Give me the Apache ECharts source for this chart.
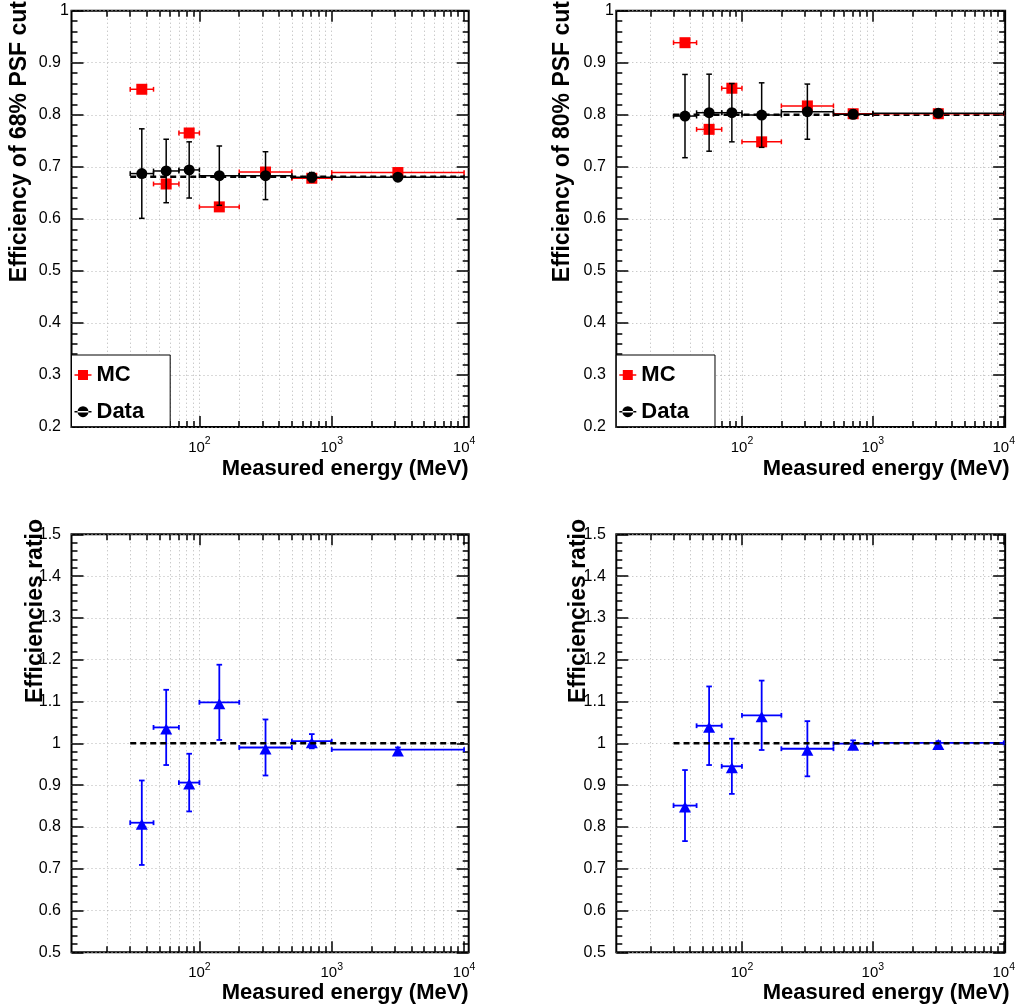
<!DOCTYPE html>
<html><head><meta charset="utf-8">
<script src="https://cdn.jsdelivr.net/npm/echarts@6/dist/echarts.min.js"></script>
<style>html,body{margin:0;padding:0;background:#fff}#c{width:1018px;height:1008px}</style>
</head><body><div id="c"></div>
<script>
// ---- data ----
const binLow  = [30, 45, 70, 100, 200, 500, 1000];
const binHigh = [45, 70, 100, 200, 500, 1000, 10000];
const energy  = [36.7, 56.1, 83.7, 141.4, 316, 707, 3162];

const data68    = [0.687, 0.692, 0.694, 0.683, 0.683, 0.680, 0.680];
const data68Err = [0.086, 0.061, 0.054, 0.057, 0.046, 0.009, 0.003];
const mc68      = [0.849, 0.667, 0.765, 0.623, 0.690, 0.678, 0.689];
const mc68Err   = [0.005, 0.005, 0.005, 0.004, 0.003, 0.003, 0.002];

const data80    = [0.7975, 0.804, 0.804, 0.7994, 0.806, 0.801, 0.803];
const data80Err = [0.080, 0.074, 0.056, 0.062, 0.053, 0.008, 0.003];
const mc80      = [0.9385, 0.772, 0.851, 0.748, 0.817, 0.802, 0.802];
const mc80Err   = [0.005, 0.005, 0.005, 0.004, 0.003, 0.003, 0.002];

const ratio68    = [0.810, 1.038, 0.906, 1.098, 0.990, 1.005, 0.985];
const ratio68Err = [0.101, 0.090, 0.069, 0.090, 0.067, 0.017, 0.005];
const ratio80    = [0.851, 1.042, 0.945, 1.067, 0.987, 0.999, 1.001];
const ratio80Err = [0.085, 0.094, 0.066, 0.083, 0.066, 0.008, 0.004];

const fitRange = [30, 10000];
const fit68 = 0.681, fit80 = 0.800, ratioRef = 1;

const xMajorTicks = [100, 1000, 10000];
const xMinorTicks = [20,30,40,50,60,70,80,90,200,300,400,500,600,700,800,900,2000,3000,4000,5000,6000,7000,8000,9000];

// ---- chart ----
const FF = 'Liberation Sans, Arial, Helvetica, sans-serif';
const gridStyle = {color: '#b4b4b4', width: 1, type: [1, 3]};
const option = {animation: false, grid: [], xAxis: [], yAxis: [], series: [], legend: [], graphic: []};

function errRender(color, lw, capX, capY) {
  return function (params, api) {
    const x = api.value(0), y = api.value(1);
    const xl = api.value(2), xh = api.value(3), yl = api.value(4), yh = api.value(5);
    const pL = api.coord([xl, y]), pH = api.coord([xh, y]);
    const pB = api.coord([x, yl]), pT = api.coord([x, yh]);
    const st = {stroke: color, lineWidth: lw};
    const L = (x1, y1, x2, y2) => ({type: 'line', shape: {x1, y1, x2, y2}, style: st});
    return {type: 'group', children: [
      L(pL[0], pL[1], pH[0], pH[1]),
      L(pL[0], pL[1] - capY, pL[0], pL[1] + capY),
      L(pH[0], pH[1] - capY, pH[0], pH[1] + capY),
      L(pB[0], pB[1], pT[0], pT[1]),
      L(pB[0] - capX, pB[1], pB[0] + capX, pB[1]),
      L(pT[0] - capX, pT[1], pT[0] + capX, pT[1])
    ]};
  };
}

function addPanel(p) {
  const gi = option.grid.length;
  option.grid.push({left: p.left, top: p.top, width: p.width, height: p.height, show: true,
    borderColor: '#000', borderWidth: 2, backgroundColor: 'transparent'});
  const xb = option.xAxis.length;
  const tickLS = {color: '#000', width: 1.5};
  const mkX = (pos, custom, len, labels, split) => ({
    type: 'log', logBase: 10, gridIndex: gi, position: pos, min: p.xMin, max: p.xMax,
    axisLine: {show: false, onZero: false},
    axisTick: {show: true, inside: true, length: len, customValues: custom, lineStyle: tickLS},
    axisLabel: labels ? {
      show: true, customValues: custom, margin: 9,
      formatter: v => '{b|10}{s|' + Math.round(Math.log10(v)) + '}',
      rich: {
        b: {fontSize: 15, fontFamily: FF, color: '#000', verticalAlign: 'bottom'},
        s: {fontSize: 10.5, fontFamily: FF, color: '#000', verticalAlign: 'bottom', padding: [0, 0, 8, 0]}
      }
    } : {show: false},
    splitLine: split ? {show: true, lineStyle: gridStyle} : {show: false},
    minorTick: {show: false}, minorSplitLine: {show: false}
  });
  option.xAxis.push(
    mkX('bottom', xMajorTicks, 11, true, true),
    mkX('bottom', xMinorTicks, 6, false, true),
    mkX('top', xMajorTicks, 11, false, false),
    mkX('top', xMinorTicks, 6, false, false)
  );
  const yb = option.yAxis.length;
  const mkY = (pos, labels) => ({
    type: 'value', gridIndex: gi, position: pos, min: p.yMin, max: p.yMax, interval: 0.1,
    axisLine: {show: false, onZero: false},
    axisTick: {show: true, inside: true, length: 12, lineStyle: tickLS},
    minorTick: {show: true, splitNumber: 5, length: 6, lineStyle: tickLS},
    axisLabel: labels ? {
      show: true, margin: 2.5,
      formatter: v => {
        const s = String(Math.round(v * 10) / 10);
        return (p.yMax === 1 && Math.abs(v - 1) < 1e-9) ? '{o|' + s + '}' : '{n|' + s + '}';
      },
      rich: {
        n: {fontSize: 16, fontFamily: FF, color: '#000', padding: [0, 8, 0, 0]},
        o: {fontSize: 16, fontFamily: FF, color: '#000', padding: [0, 0, 0, 0]}
      }
    } : {show: false},
    splitLine: labels ? {show: true, lineStyle: gridStyle} : {show: false}
  });
  option.yAxis.push(mkY('left', true), mkY('right', false));

  option.series.push({
    type: 'line', name: 'fit', xAxisIndex: xb, yAxisIndex: yb, silent: true,
    data: [[fitRange[0], p.fit], [fitRange[1], p.fit]], symbol: 'none',
    lineStyle: {color: '#000', width: 2.5, type: [6, 4]}, z: p.fitOnTop ? 9 : 2
  });

  p.sets.forEach((s, k) => {
    option.series.push({
      type: 'custom', name: s.name + ' errors', xAxisIndex: xb, yAxisIndex: yb, silent: true,
      renderItem: errRender(s.color, s.lw, 2.8, 2.4),
      data: energy.map((e, i) => [e, s.vals[i], binLow[i], binHigh[i], s.vals[i] - s.errs[i], s.vals[i] + s.errs[i]]),
      encode: {x: 0, y: 1}, z: 3 + 2 * k
    });
    option.series.push({
      type: 'scatter', name: s.name, xAxisIndex: xb, yAxisIndex: yb,
      data: energy.map((e, i) => [e, s.vals[i]]),
      symbol: s.symbol, symbolSize: s.size, symbolOffset: s.offset || [0, 0],
      itemStyle: {color: s.color, opacity: 1}, z: 4 + 2 * k
    });
  });

  if (p.legend) {
    option.legend.push({
      left: p.left, top: 355, orient: 'vertical', selectedMode: false,
      itemWidth: 17, itemHeight: 11, itemGap: 14.7,
      padding: [9, 26, 4, 3],
      backgroundColor: '#fff', borderColor: '#000', borderWidth: 1, z: 20,
      textStyle: {fontSize: 22, fontWeight: 'bold', fontFamily: FF, color: '#000'},
      data: [
        {name: 'MC', icon: 'path://M0,4.8h17v1.4h-17z M3.5,0.5h10v10h-10z'},
        {name: 'Data', icon: 'path://M0,4.8h17v1.4h-17z M3,5.5a5.5,5.5 0 1,0 11,0a5.5,5.5 0 1,0 -11,0z'}
      ]
    });
  }

  option.graphic.push({
    type: 'text', x: p.yTitleX, y: p.yTitleY, rotation: Math.PI / 2, z: 30,
    style: {text: p.yTitle, font: 'bold 23px ' + FF, fill: '#000',
      align: 'right', textAlign: 'right', verticalAlign: 'middle', textVerticalAlign: 'middle'}
  });
  option.graphic.push({
    type: 'text', x: p.left + p.width, y: p.xTitleY, z: 30,
    style: {text: 'Measured energy (MeV)', font: 'bold 22px ' + FF, fill: '#000',
      align: 'right', textAlign: 'right', verticalAlign: 'middle', textVerticalAlign: 'middle'}
  });
}

const L = {left: 71.5, width: 397.2, xMin: 10.8, xMax: 10840};
const R = {left: 616.3, width: 393.4, xMin: 10.96, xMax: 10250};
const T = {top: 10.7, height: 416.3, yMin: 0.2, yMax: 1, xTitleY: 469, legend: true, fitOnTop: false};
const B = {top: 534.3, height: 418, yMin: 0.5, yMax: 1.5, xTitleY: 993, legend: false, fitOnTop: true};

const red = '#ff0000', blue = '#0000ff', black = '#000000';

addPanel(Object.assign({}, L, T, {fit: fit68, yTitle: 'Efficiency of 68% PSF cut', yTitleX: 20, yTitleY: 1,
  sets: [
    {name: 'MC', vals: mc68, errs: mc68Err, color: red, lw: 1.5, symbol: 'rect', size: 11},
    {name: 'Data', vals: data68, errs: data68Err, color: black, lw: 1.5, symbol: 'circle', size: 11}
  ]}));
addPanel(Object.assign({}, R, T, {fit: fit80, yTitle: 'Efficiency of 80% PSF cut', yTitleX: 563, yTitleY: 1,
  sets: [
    {name: 'MC', vals: mc80, errs: mc80Err, color: red, lw: 1.5, symbol: 'rect', size: 11},
    {name: 'Data', vals: data80, errs: data80Err, color: black, lw: 1.5, symbol: 'circle', size: 11}
  ]}));
addPanel(Object.assign({}, L, B, {fit: ratioRef, yTitle: 'Efficiencies ratio', yTitleX: 36, yTitleY: 519,
  sets: [
    {name: 'Ratio', vals: ratio68, errs: ratio68Err, color: blue, lw: 1.8, symbol: 'triangle', size: [12, 11], offset: [0, 1.5]}
  ]}));
addPanel(Object.assign({}, R, B, {fit: ratioRef, yTitle: 'Efficiencies ratio', yTitleX: 579, yTitleY: 519,
  sets: [
    {name: 'Ratio 80', vals: ratio80, errs: ratio80Err, color: blue, lw: 1.8, symbol: 'triangle', size: [12, 11], offset: [0, 1.5]}
  ]}));

const chart = echarts.init(document.getElementById('c'), null, {renderer: 'canvas'});
chart.setOption(option);
</script>
</body></html>
